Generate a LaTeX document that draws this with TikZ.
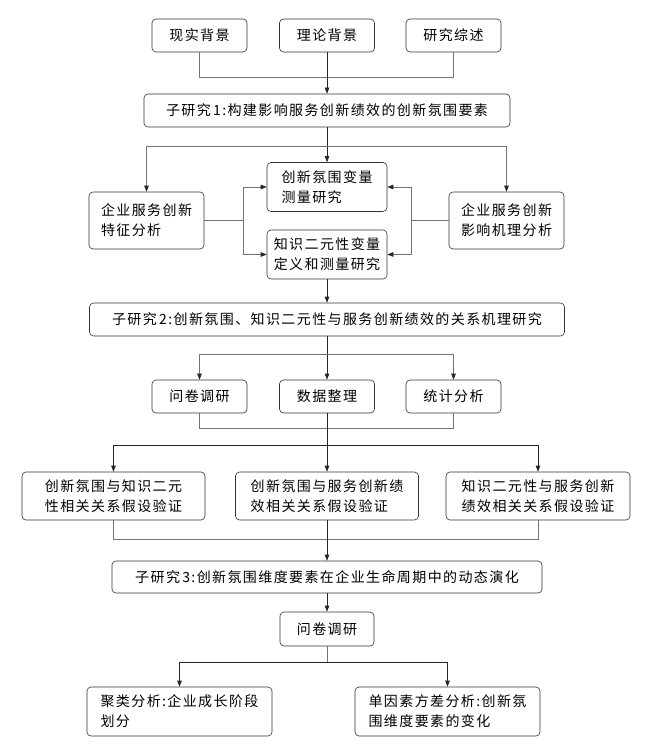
\documentclass[tikz,border=0pt]{standalone}
\usepackage{fontspec}
\setmainfont{Noto Sans CJK SC}[LetterSpace=10]
\usetikzlibrary{arrows.meta}

\begin{document}
\begin{tikzpicture}[x=1pt, y=-1pt,
  box/.style={draw=black!80, rounded corners=4pt, line width=0.6pt, minimum height=33pt,
    inner sep=2pt, align=left, font=\fontsize{14pt}{20pt}\selectfont},
  link/.style={draw=black!55, line width=0.6pt},
  branch/.style={link, -{Triangle[length=6pt,width=4.5pt,color=black!85]}},
  flow/.style={draw=black!85, line width=0.6pt, -{Triangle[length=6pt,width=4.5pt,color=black!85]}}]
\useasboundingbox (0,0) rectangle (649,746);
% Background boxes
\node[box, minimum width=95pt] (real) at (199.5,35.5) {现实背景};
\node[box, minimum width=95pt] (theory) at (327,35.5) {理论背景};
\node[box, minimum width=95pt] (review) at (453.5,35.5) {研究综述};
% Sub-study 1
\node[box, minimum width=366pt] (sub1) at (327,110.5) {子研究\,1:构建影响服务创新绩效的创新氛围要素};
\node[box, minimum width=120pt, minimum height=49pt] (climate) at (327,187) {创新氛围变量\\测量研究};
\node[box, minimum width=120pt, minimum height=49pt] (ambi) at (327,254.5) {知识二元性变量\\定义和测量研究};
\node[box, minimum width=115pt, minimum height=57pt] (feature) at (146.5,220.5) {企业服务创新\\特征分析};
\node[box, minimum width=115pt, minimum height=57pt] (mech) at (506.5,220.5) {企业服务创新\\影响机理分析};
% Sub-study 2
\node[box, minimum width=475pt] (sub2) at (327,319.5) {子研究\,2:创新氛围、知识二元性与服务创新绩效的关系机理研究};
\node[box, minimum width=95pt] (survey) at (199.5,396.5) {问卷调研};
\node[box, minimum width=95pt] (data) at (327,396.5) {数据整理};
\node[box, minimum width=95pt] (stat) at (453.5,396.5) {统计分析};
\node[box, minimum width=183pt, minimum height=48pt] (hypA) at (113.5,496) {创新氛围与知识二元\\性相关关系假设验证};
\node[box, minimum width=183pt, minimum height=48pt] (hypB) at (327,496) {创新氛围与服务创新绩\\效相关关系假设验证};
\node[box, minimum width=184pt, minimum height=48pt] (hypC) at (538,496) {知识二元性与服务创新\\绩效相关关系假设验证};
% Sub-study 3
\node[box, minimum width=430pt, minimum height=32pt] (sub3) at (327,577) {子研究\,3:创新氛围维度要素在企业生命周期中的动态演化};
\node[box, minimum width=94pt, minimum height=34pt] (survey2) at (327,629) {问卷调研};
\node[box, minimum width=185pt, minimum height=49pt] (cluster) at (179.5,711.5) {聚类分析:企业成长阶段\\划分};
\node[box, minimum width=185pt, minimum height=49pt] (anova) at (447.5,711.5) {单因素方差分析:创新氛\\围维度要素的变化};
% Joints
\coordinate (j1) at (327,77);
\coordinate (j2) at (327,146);
\coordinate (jl) at (243,220.5);
\coordinate (jr) at (411,220.5);
\coordinate (j3) at (327,354);
\coordinate (j4) at (327,428);
\coordinate (j5) at (327,445);
\coordinate (j6) at (327,539);
\coordinate (j7) at (327,662);
% Connectors
\draw[link] (real) -- (real |- j1) -- (review |- j1) -- (review);
\draw[flow] (theory) -- (sub1);
\draw[flow] (sub1) -- (climate);
\draw[branch] (j2) -| (feature);
\draw[branch] (j2) -| (mech);
\draw[link] (feature) -- (jl);
\draw[branch] (jl) |- (climate);
\draw[branch] (jl) |- (ambi);
\draw[link] (mech) -- (jr);
\draw[branch] (jr) |- (climate);
\draw[branch] (jr) |- (ambi);
\draw[flow] (ambi) -- (sub2);
\draw[flow] (sub2) -- (data);
\draw[branch] (j3) -| (survey);
\draw[branch] (j3) -| (stat);
\draw[link] (survey) |- (j4);
\draw[link] (stat) |- (j4);
\draw[flow] (data) -- (hypB);
\draw[flow] (j5) -| (hypA);
\draw[flow] (j5) -| (hypC);
\draw[link] (hypA) |- (j6);
\draw[link] (hypC) |- (j6);
\draw[flow] (hypB) -- (sub3);
\draw[flow] (sub3) -- (survey2);
\draw[link] (survey2) -- (j7);
\draw[flow] (j7) -| (cluster);
\draw[flow] (j7) -| (anova);
\end{tikzpicture}
\end{document}
